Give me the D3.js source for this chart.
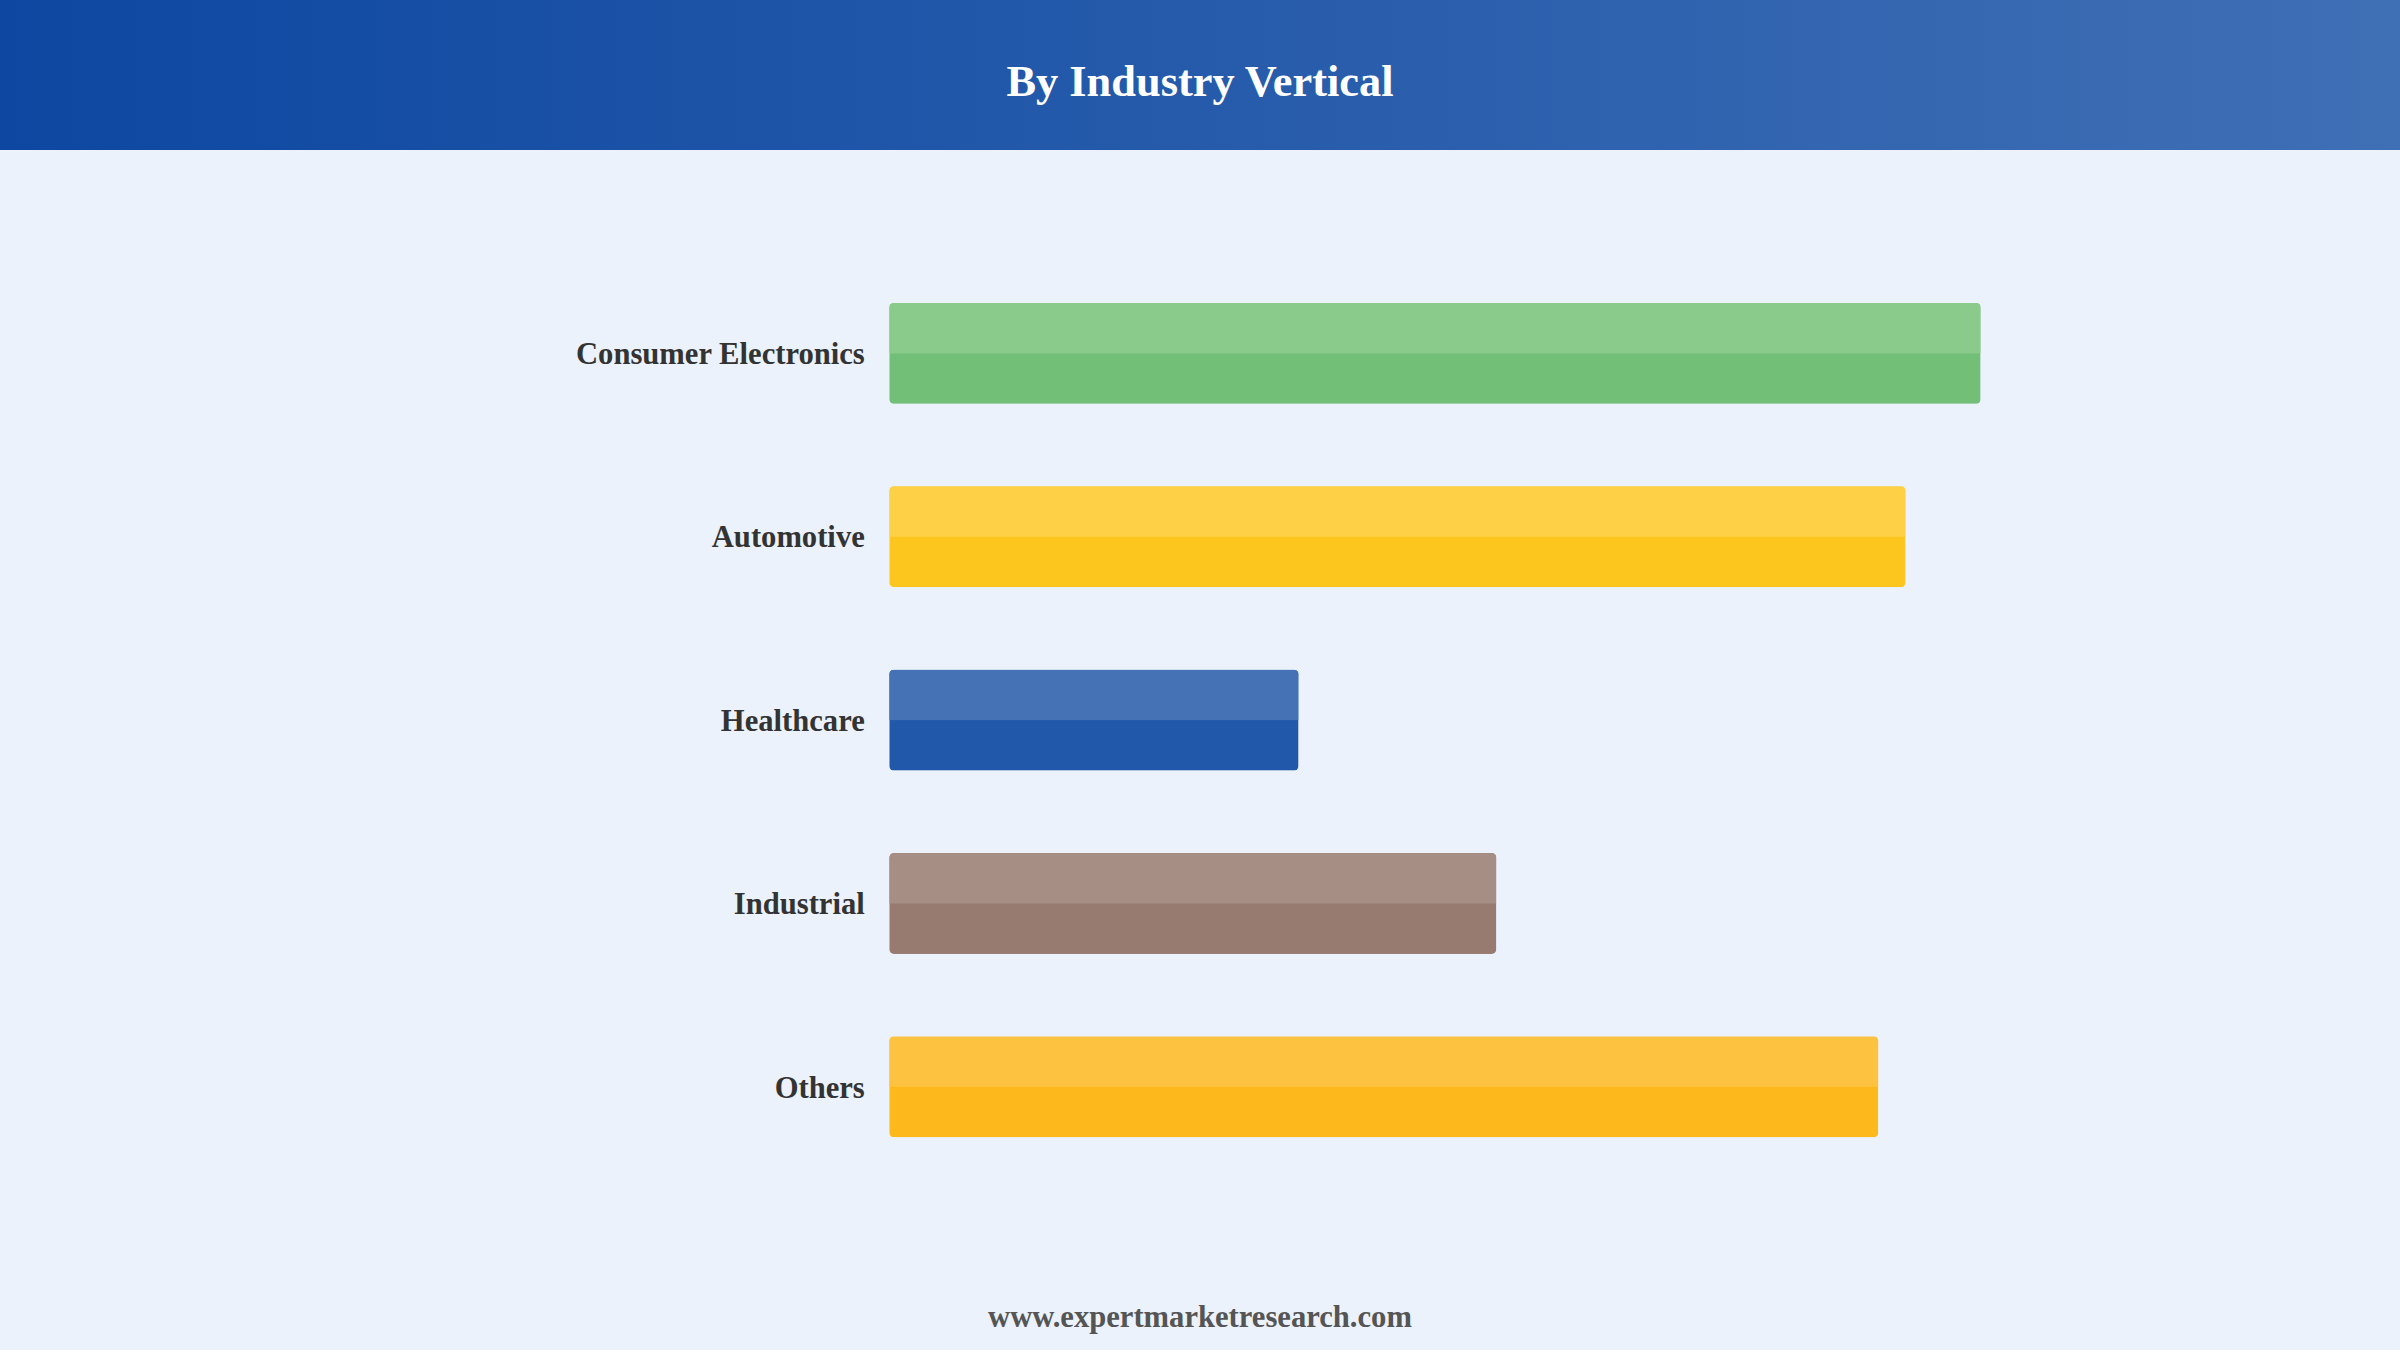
<!DOCTYPE html>
<html><head><meta charset="utf-8">
<script src="https://cdn.jsdelivr.net/npm/d3@7/dist/d3.min.js"></script>
<style>html,body{margin:0;padding:0;background:#ebf2fc;}svg{display:block;}</style>
</head><body>
<script>
const categories = ["Consumer Electronics","Automotive","Healthcare","Industrial","Others"];
const values = [32, 29.8, 12, 17.8, 29.0];
const topColors = ["#8acb8c","#fed045","#4472b5","#a78e85","#fdc23f"];
const bottomColors = ["#72bf78","#fdc61f","#2258aa","#977b70","#fdb81c"];
const title = "By Industry Vertical";
const footer = "www.expertmarketresearch.com";

const W=1568,H=882;
const svg=d3.select("body").append("svg").attr("width",2400).attr("height",1350).attr("viewBox",`0 0 ${W} ${H}`);
const defs=svg.append("defs");
const g=defs.append("linearGradient").attr("id","hdr");
g.append("stop").attr("offset","0%").attr("stop-color","#0d47a1");
g.append("stop").attr("offset","100%").attr("stop-color","#3f6fb5");
svg.append("rect").attr("width",W).attr("height",H).attr("fill","#ebf2fc");
svg.append("rect").attr("width",W).attr("height",98).attr("fill","url(#hdr)");
svg.append("text").attr("x",784).attr("y",63).attr("text-anchor","middle").attr("fill","#fff")
  .attr("font-family","Liberation Serif, serif").attr("font-weight","bold").attr("font-size",29).text(title);

const x=d3.scaleLinear().domain([0,32]).range([581,1294]);
const y=d3.scaleBand().domain(categories).range([162,779]).paddingInner(0.45).paddingOuter(0.3);
const bh=y.bandwidth();
const gb=svg.append("g");
categories.forEach((c,i)=>{
  const y0=y(c), w=x(values[i])-x(0);
  const cid="c"+i;
  defs.append("clipPath").attr("id",cid).append("rect").attr("x",x(0)).attr("y",y0).attr("width",w).attr("height",bh).attr("rx",3);
  const bg=gb.append("g").attr("clip-path",`url(#${cid})`);
  bg.append("rect").attr("x",x(0)).attr("y",y0).attr("width",w).attr("height",bh).attr("fill",bottomColors[i]);
  bg.append("rect").attr("x",x(0)).attr("y",y0).attr("width",w).attr("height",bh/2).attr("fill",topColors[i]);
  gb.append("text").attr("x",565).attr("y",y0+bh/2).attr("dy","0.35em").attr("text-anchor","end")
    .attr("font-family","Liberation Serif, serif").attr("font-weight","bold").attr("font-size",20).attr("fill","#333").text(c);
});
svg.append("text").attr("x",784).attr("y",867).attr("text-anchor","middle").attr("fill","#555")
  .attr("font-family","Liberation Serif, serif").attr("font-weight","bold").attr("font-size",20).text(footer);
</script>
</body></html>
